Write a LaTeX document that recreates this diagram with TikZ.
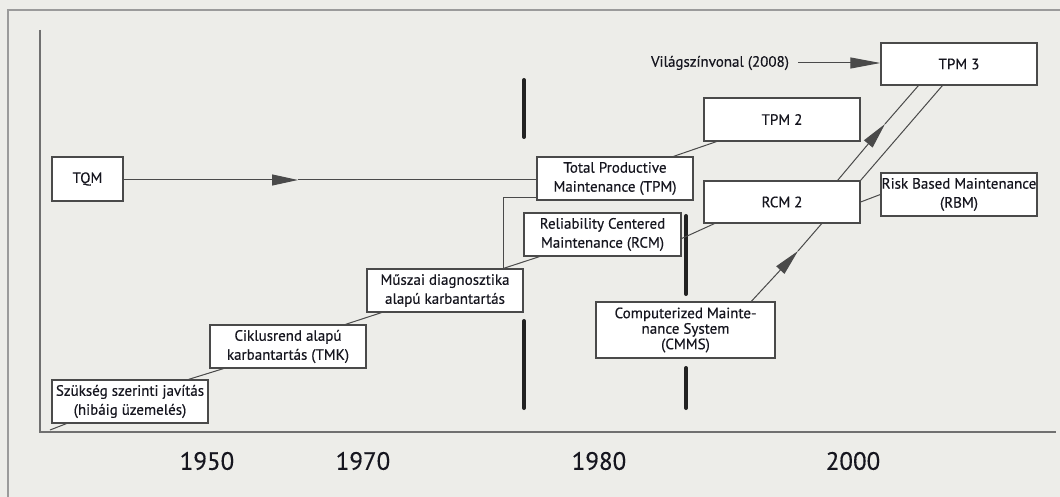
\documentclass[tikz,border=0pt]{standalone}
\usepackage{fontspec}
\setmainfont[FakeBold=0.35]{PT Sans}
\usetikzlibrary{arrows.meta}
\definecolor{bg}{HTML}{EDEDE9}
\definecolor{txt}{HTML}{16161F}
\definecolor{boxline}{HTML}{4A4A4A}
\definecolor{axis}{HTML}{707070}
\definecolor{bar}{HTML}{222222}
\tikzset{
  box/.style={draw=boxline, line width=1.3pt, fill=white, inner sep=0pt, align=center,
    text=txt, font=\fontsize{15}{19}\selectfont},
  conn/.style={draw=boxline, line width=1pt},
  bigtip/.style={-{Triangle[length=26pt,width=11pt]}},
  yearlbl/.style={text=txt, font=\fontsize{25}{28}\selectfont, inner sep=0pt},
  thickbar/.style={draw=bar, line width=4pt, line cap=round},
}
\begin{document}
\begin{tikzpicture}[x=1pt,y=-1pt]
\useasboundingbox (0,0) rectangle (1060,497);
\fill[bg] (0,0) rectangle (1060,497);
% outer frame
\draw[color=axis!70, line width=1.5pt] (8,505) -- (8,10) -- (1070,10);
% axes
\draw[color=axis, line width=1.6pt] (40,30) -- (40,432) -- (1056,432);

% boxes
\node[box, minimum width=156pt, minimum height=43pt] (sz) at (130,401.5) {Szükség szerinti javítás\\(hibáig üzemelés)};
\node[box, minimum width=156pt, minimum height=43pt] (ck) at (288,346.5) {Ciklusrend alapú\\karbantartás (TMK)};
\node[box, minimum width=156pt, minimum height=43pt] (mu) at (445,290.5) {Műszai diagnosztika\\alapú karbantartás};
\node[box, minimum width=156pt, minimum height=43pt] (tpm) at (615,178.5) {Total Productive\\Maintenance (TPM)};
\node[box, minimum width=157pt, minimum height=43pt] (rcm) at (602.5,234.5) {Reliability Centered\\Maintenance (RCM)};
\node[box, minimum width=156pt, minimum height=43pt] (tpmb) at (782,119.5) {TPM 2};
\node[box, minimum width=156pt, minimum height=42pt] (tpmc) at (959,64) {TPM 3};
\node[box, minimum width=156pt, minimum height=42pt] (rcmb) at (782,202) {RCM 2};
\node[box, minimum width=156pt, minimum height=43pt] (rbm) at (959,194.5) {Risk Based Maintenance\\(RBM)};
\node[box, minimum width=71pt, minimum height=44pt] (tqm) at (87.5,179) {TQM};
\node[box, minimum width=179pt, minimum height=56pt, font=\fontsize{15}{15.5}\selectfont] (cmms) at (685.5,330) {Computerized Mainte-\\nance System\\(CMMS)};

% label
\node[text=txt, font=\fontsize{15}{18}\selectfont, inner sep=0pt] (vil) at (720,63) {Világszínvonal (2008)};

% years
\node[yearlbl] (y1950) at (207,461) {1950};
\node[yearlbl] (y1970) at (363,461) {1970};
\node[yearlbl] (y1980) at (599,461) {1980};
\node[yearlbl] (y2000) at (853,461) {2000};

% thick bars
\draw[thickbar] (524,80) -- (524,137);
\draw[thickbar] (524,321) -- (524,408);
\draw[thickbar] (686,216) -- (686,294);
\draw[thickbar] (686,368) -- (686,408);

% staircase connectors
\coordinate (start) at (50,430);
\draw[conn] (start) -- ([xshift=15pt]sz.south west);
\draw[conn] ([xshift=-20pt]sz.north east) -- ([xshift=14pt]ck.south west);
\draw[conn] ([xshift=-21pt]ck.north east) -- ([xshift=15pt]mu.south west);
\draw[conn] ([xshift=-20pt]mu.north east) -- ([xshift=16pt]rcm.south west);
\draw[conn] ([yshift=-4pt]rcm.east) -- ([xshift=11pt]rcmb.south west);
\draw[conn] (rcmb.east) -- (rbm.west);
% TPM branch
\draw[conn] ([xshift=-20pt]mu.north east) |- ([yshift=3pt]tpm.south west);
\draw[conn] ([xshift=-20pt]tpm.north east) -- ([xshift=13pt]tpmb.south west);
% TQM arrow
\coordinate (tqmtip) at (298,180);
\draw[conn, bigtip] (tqm.east |- tqmtip) -- (tqmtip);
\draw[conn] (tqmtip) -- (tpm.west |- tqmtip);
% RCM2 -> TPM3
\coordinate (rtip) at (885,124);
\draw[conn, bigtip] ([xshift=-23pt]rcmb.north east) -- (rtip);
\draw[conn] (rtip) -- ([xshift=38pt]tpmc.south west);
\draw[conn] (rcmb.north east) -- ([xshift=62pt]tpmc.south west);
% CMMS -> RCM2
\coordinate (ctip) at (798,251);
\draw[conn, bigtip] ([xshift=156pt]cmms.north west) -- (ctip);
\draw[conn] (ctip) -- ([xshift=-39pt]rcmb.south east);
% Vilagszinvonal arrow
\draw[conn, -{Triangle[length=30pt,width=11pt]}] ([xshift=9pt]vil.east) -- (tpmc.west |- vil.east);
\end{tikzpicture}
\end{document}
